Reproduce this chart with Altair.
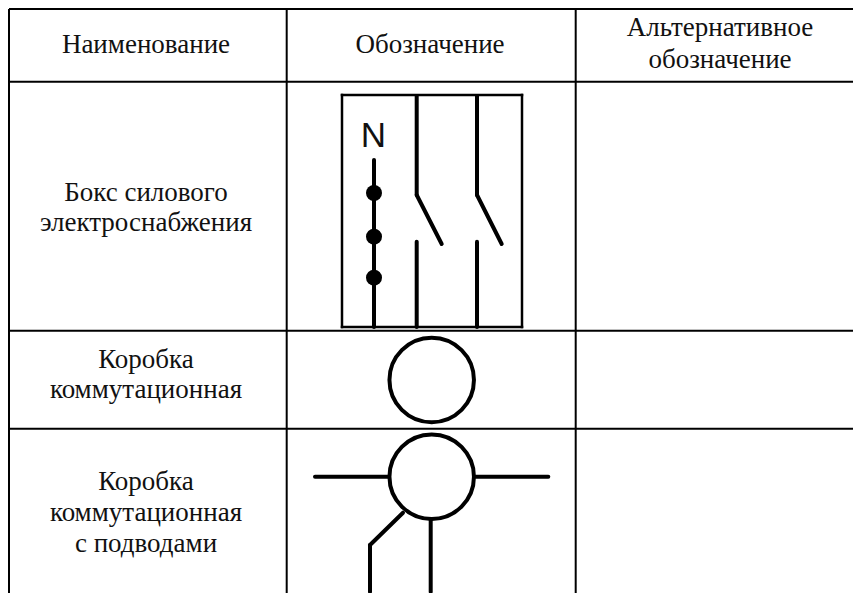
import altair as alt
import pandas as pd

# table rules (image pixels): x1, y1, x2, y2
grid_x1 = [9, 286.7, 575.7, 9, 9, 9, 9]
grid_y1 = [9, 9, 9, 9, 81.7, 330.7, 428.7]
grid_x2 = [9, 286.7, 575.7, 853, 853, 853, 853]
grid_y2 = [593, 593, 593, 9, 81.7, 330.7, 428.7]

# symbol box
box_x1 = [342, 522, 342, 342]
box_y1 = [95, 95, 95, 327]
box_x2 = [342, 522, 522, 522]
box_y2 = [327, 327, 95, 327]

# symbol strokes
sym_x1 = [374, 416.7, 416.7, 416.7, 477, 477, 477, 315, 475.7, 430.7, 403, 370]
sym_y1 = [160, 96, 195, 241.7, 96, 195, 241.7, 476.7, 476.7, 520, 512.7, 545]
sym_x2 = [374, 416.7, 441.7, 416.7, 477, 501.7, 477, 388, 548.3, 430.7, 370, 370]
sym_y2 = [327, 195, 244, 327, 195, 244, 327, 476.7, 476.7, 591.7, 545, 591.7]

# dots on the N conductor
dot_x = [374, 374, 374]
dot_y = [193, 236.7, 277.7]

# circles
ring_x = [431.7, 431.7]
ring_y = [380, 476.7]

# texts
text_lines = ["Наименование", "Обозначение", "Альтернативное", "обозначение",
              "Бокс силового", "электроснабжения", "Коробка", "коммутационная",
              "Коробка", "коммутационная", "с подводами"]
text_x = [146, 430, 720, 720, 146, 146, 146, 146, 146, 146, 146]
text_y = [53, 53, 36, 68, 200.7, 231, 368, 398, 490, 521, 551.7]

scale_x = alt.Scale(domain=[8, 853], range=[0, 845])
scale_y = alt.Scale(domain=[8, 593], range=[0, 585])
X = alt.X("x:Q", scale=scale_x, axis=None)
Y = alt.Y("y:Q", scale=scale_y, axis=None)


def segs(x1, y1, x2, y2):
    return pd.DataFrame({"x": x1, "y": y1, "x2": x2, "y2": y2})


def rules(df, width, cap):
    return alt.Chart(df).mark_rule(color="#000000", strokeWidth=width, strokeCap=cap).encode(
        x=X, y=Y, x2="x2:Q", y2="y2:Q"
    )


grid = rules(segs(grid_x1, grid_y1, grid_x2, grid_y2), 2, "butt")
box = rules(segs(box_x1, box_y1, box_x2, box_y2), 2.5, "square")
sym = rules(segs(sym_x1, sym_y1, sym_x2, sym_y2), 4, "round")

dots = alt.Chart(pd.DataFrame({"x": dot_x, "y": dot_y})).mark_point(
    shape="circle", filled=True, color="#000000", size=256, opacity=1
).encode(x=X, y=Y)

rings = alt.Chart(pd.DataFrame({"x": ring_x, "y": ring_y})).mark_point(
    shape="circle", filled=False, color="#000000", size=7140, strokeWidth=4, opacity=1
).encode(x=X, y=Y)

labels = alt.Chart(pd.DataFrame({"x": text_x, "y": text_y, "t": text_lines})).mark_text(
    font="Liberation Serif", fontSize=27, align="center", baseline="alphabetic", color="#111111"
).encode(x=X, y=Y, text="t:N")

n_label = alt.Chart(pd.DataFrame({"x": [373.3], "y": [146.7], "t": ["N"]})).mark_text(
    font="Liberation Sans", fontSize=35, align="center", baseline="alphabetic", color="#111111"
).encode(x=X, y=Y, text="t:N")

chart = alt.layer(grid, box, sym, rings, dots, labels, n_label).properties(
    width=845, height=585, padding=0, background="white",
    autosize=alt.AutoSizeParams(type="none"),
).configure_view(stroke=None)

chart.save("out.html", embed_options={"renderer": "svg", "actions": False})
